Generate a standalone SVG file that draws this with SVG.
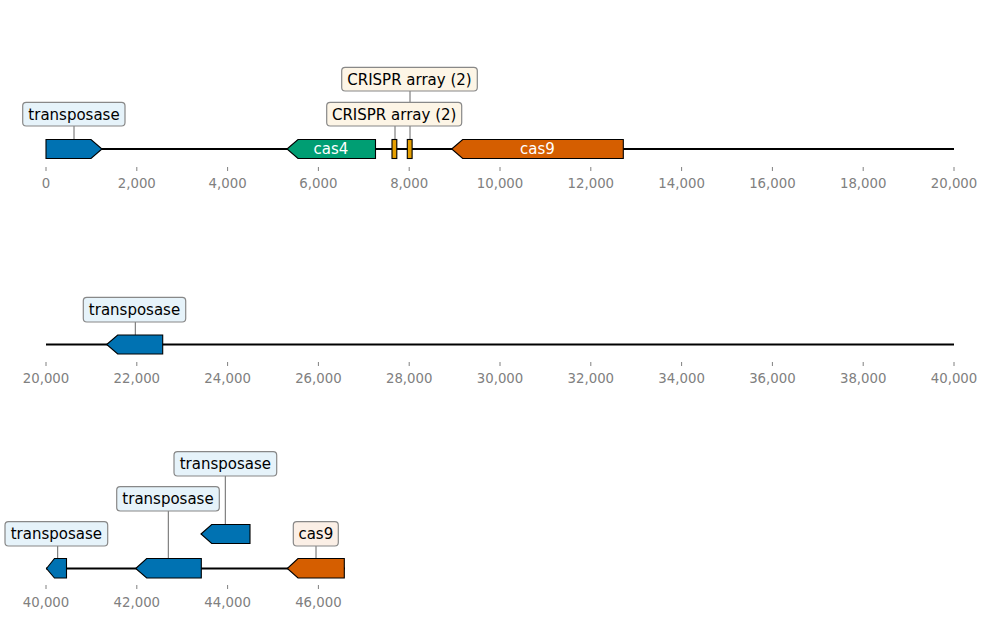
<svg xmlns="http://www.w3.org/2000/svg" width="988" height="620" viewBox="0 0 988 620">
<style>
text{font-family:"DejaVu Sans","Liberation Sans",sans-serif}
.tick{font-size:13.3px;fill:#808080;text-anchor:middle}
.tm{stroke:#808080;stroke-width:1}
.axis{stroke:#000;stroke-width:1.8;fill:none}
.feat{stroke:#000;stroke-width:1.1}
.blue{fill:#0072B2}.green{fill:#009E73}.orange{fill:#D55E00}.yellow{fill:#E69F00}
.lbl{stroke:#888;stroke-width:1.2}
.lb{fill:#E6F3FA}.ly{fill:#FDF5E6}.lo{fill:#FBEFE6}
.lt{font-size:15px;fill:#000;text-anchor:middle}
.it{font-size:15px;fill:#fff;text-anchor:middle}
.lead{stroke:#555;stroke-width:0.9}
</style>
<rect width="988" height="620" fill="#fff"/>
<g id="axes">
<line class="axis" x1="46" y1="149" x2="954" y2="149"/>
<line class="axis" x1="46" y1="344.5" x2="954" y2="344.5"/>
<line class="axis" x1="46" y1="568.5" x2="345" y2="568.5"/>
<g class="tm">
<line x1="46" y1="167" x2="46" y2="171"/><line x1="136.8" y1="167" x2="136.8" y2="171"/><line x1="227.6" y1="167" x2="227.6" y2="171"/><line x1="318.4" y1="167" x2="318.4" y2="171"/><line x1="409.2" y1="167" x2="409.2" y2="171"/><line x1="500" y1="167" x2="500" y2="171"/><line x1="590.8" y1="167" x2="590.8" y2="171"/><line x1="681.6" y1="167" x2="681.6" y2="171"/><line x1="772.4" y1="167" x2="772.4" y2="171"/><line x1="863.2" y1="167" x2="863.2" y2="171"/><line x1="954" y1="167" x2="954" y2="171"/>
<line x1="46" y1="362" x2="46" y2="366"/><line x1="136.8" y1="362" x2="136.8" y2="366"/><line x1="227.6" y1="362" x2="227.6" y2="366"/><line x1="318.4" y1="362" x2="318.4" y2="366"/><line x1="409.2" y1="362" x2="409.2" y2="366"/><line x1="500" y1="362" x2="500" y2="366"/><line x1="590.8" y1="362" x2="590.8" y2="366"/><line x1="681.6" y1="362" x2="681.6" y2="366"/><line x1="772.4" y1="362" x2="772.4" y2="366"/><line x1="863.2" y1="362" x2="863.2" y2="366"/><line x1="954" y1="362" x2="954" y2="366"/>
<line x1="46" y1="585" x2="46" y2="589"/><line x1="136.8" y1="585" x2="136.8" y2="589"/><line x1="227.6" y1="585" x2="227.6" y2="589"/><line x1="318.4" y1="585" x2="318.4" y2="589"/>
</g>
<g class="tick">
<text x="46" y="187.5">0</text><text x="136.8" y="187.5">2,000</text><text x="227.6" y="187.5">4,000</text><text x="318.4" y="187.5">6,000</text><text x="409.2" y="187.5">8,000</text><text x="500" y="187.5">10,000</text><text x="590.8" y="187.5">12,000</text><text x="681.6" y="187.5">14,000</text><text x="772.4" y="187.5">16,000</text><text x="863.2" y="187.5">18,000</text><text x="954" y="187.5">20,000</text>
<text x="46" y="383.2">20,000</text><text x="136.8" y="383.2">22,000</text><text x="227.6" y="383.2">24,000</text><text x="318.4" y="383.2">26,000</text><text x="409.2" y="383.2">28,000</text><text x="500" y="383.2">30,000</text><text x="590.8" y="383.2">32,000</text><text x="681.6" y="383.2">34,000</text><text x="772.4" y="383.2">36,000</text><text x="863.2" y="383.2">38,000</text><text x="954" y="383.2">40,000</text>
<text x="46" y="607.3">40,000</text><text x="136.8" y="607.3">42,000</text><text x="227.6" y="607.3">44,000</text><text x="318.4" y="607.3">46,000</text>
</g>
</g>
<g id="connectors">
<line class="lead" x1="74" y1="126" x2="74" y2="139.5"/>
<line class="lead" x1="395" y1="126" x2="395" y2="139.5"/>
<line class="lead" x1="410" y1="91" x2="410" y2="139.5"/>
<line class="lead" x1="135.3" y1="322" x2="135.3" y2="335"/>
<line class="lead" x1="57.7" y1="546" x2="57.7" y2="558.5"/>
<line class="lead" x1="168.3" y1="511" x2="168.3" y2="558.5"/>
<line class="lead" x1="225.3" y1="476" x2="225.3" y2="524.5"/>
<line class="lead" x1="316" y1="546" x2="316" y2="558.5"/>
</g>
<g id="transposase1">
<path class="feat blue" d="M46,139.5 L91,139.5 L102,149 L91,158.5 L46,158.5 Z"/>
<rect class="lbl lb" x="22.7" y="102.3" width="102.3" height="23.7" rx="3.5"/>
<text class="lt" x="74" y="119.5">transposase</text>
</g>
<g id="cas4">
<path class="feat green" d="M287,149 L298,139.5 L375.5,139.5 L375.5,158.5 L298,158.5 Z"/>
<text class="it" x="331" y="154.3">cas4</text>
</g>
<g id="crispr1">
<rect class="feat yellow" x="392" y="139.5" width="4.8" height="19"/>
<rect class="lbl ly" x="326.7" y="102.3" width="135" height="23.7" rx="3.5"/>
<text class="lt" x="394.2" y="119.5">CRISPR array (2)</text>
</g>
<g id="crispr2">
<rect class="feat yellow" x="407.3" y="139.5" width="4.8" height="19"/>
<rect class="lbl ly" x="341.7" y="67.3" width="135.6" height="23.7" rx="3.5"/>
<text class="lt" x="409.5" y="84.5">CRISPR array (2)</text>
</g>
<g id="cas9a">
<path class="feat orange" d="M451.7,149 L462.7,139.5 L623.3,139.5 L623.3,158.5 L462.7,158.5 Z"/>
<text class="it" x="537.5" y="154.3">cas9</text>
</g>
<g id="transposase2">
<path class="feat blue" d="M106.7,344.5 L117.7,335 L162.7,335 L162.7,354 L117.7,354 Z"/>
<rect class="lbl lb" x="83.3" y="297.3" width="102.4" height="24.7" rx="3.5"/>
<text class="lt" x="134.5" y="315">transposase</text>
</g>
<g id="transposase3">
<path class="feat blue" d="M46.5,568.5 L54.5,558.5 L66.5,558.5 L66.5,578 L54.5,578 Z"/>
<rect class="lbl lb" x="5" y="521.7" width="102.7" height="24.3" rx="3.5"/>
<text class="lt" x="56.3" y="539">transposase</text>
</g>
<g id="transposase4">
<path class="feat blue" d="M135.7,568.5 L146.7,558.5 L201.3,558.5 L201.3,578 L146.7,578 Z"/>
<rect class="lbl lb" x="116.7" y="486.7" width="102.6" height="24.3" rx="3.5"/>
<text class="lt" x="168" y="504">transposase</text>
</g>
<g id="transposase5">
<path class="feat blue" d="M201,534 L211.7,524.5 L250,524.5 L250,543.5 L211.7,543.5 Z"/>
<rect class="lbl lb" x="174" y="451.7" width="102.7" height="24.3" rx="3.5"/>
<text class="lt" x="225.3" y="469">transposase</text>
</g>
<g id="cas9b">
<path class="feat orange" d="M287.3,568.5 L298,558.5 L344.3,558.5 L344.3,578 L298,578 Z"/>
<rect class="lbl lo" x="293.3" y="521.7" width="45" height="24.3" rx="3.5"/>
<text class="lt" x="315.8" y="539">cas9</text>
</g>
</svg>
